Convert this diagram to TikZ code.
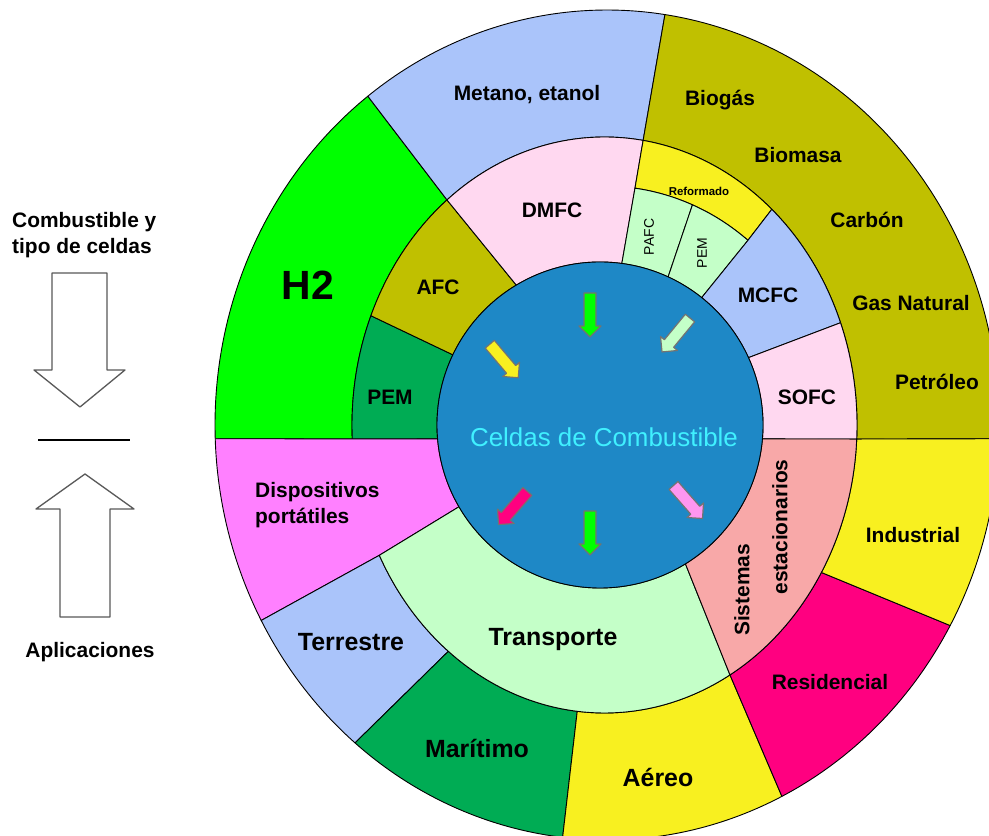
\documentclass[tikz,border=0pt]{standalone}
\usepackage{fontspec}
\setmainfont{Liberation Sans}
\usetikzlibrary{calc}

\definecolor{hgreen}{RGB}{0,255,0}
\definecolor{skyblue}{RGB}{170,196,250}
\definecolor{olive}{RGB}{192,192,0}
\definecolor{deepgreen}{RGB}{0,172,84}
\definecolor{rosecell}{RGB}{255,216,240}
\definecolor{lemon}{RGB}{248,240,32}
\definecolor{mint}{RGB}{196,255,200}
\definecolor{corecol}{RGB}{30,136,198}
\definecolor{orchid}{RGB}{255,128,255}
\definecolor{salmon}{RGB}{248,168,168}
\definecolor{hotpink}{RGB}{255,0,128}
\definecolor{lightorchid}{RGB}{255,150,240}
\definecolor{coretext}{RGB}{64,240,255}

\begin{document}
\begin{tikzpicture}[x=1bp,y=1bp,line join=round,
  ringpart/.style={draw=black,line width=0.9bp},
  lbl/.style={font=\fontsize{21}{26}\selectfont\bfseries,inner sep=0pt},
  biglbl/.style={font=\fontsize{25}{29}\selectfont\bfseries,inner sep=0pt},
  smalllbl/.style={font=\fontsize{14}{16}\selectfont,inner sep=0pt},
  bigarrow/.style={draw=black!65,line width=1.3bp,fill=white},
  tinyarrow/.style={draw=black!55,line width=1.2bp}]
%%
\useasboundingbox (0,0) rectangle (989,836);
\fill[white] (0,0) rectangle (989,836);
\clip (0,0) rectangle (989,836);
%% centres of the rings
\coordinate (O) at (607,411);
\coordinate (M) at (604.5,411);
\coordinate (B) at (600,411);
%% outer ellipse
\coordinate (oL) at ($(O)+(181.9:392 and 415)$);
\coordinate (oHM) at ($(O)+(127.6:392 and 415)$);
\coordinate (oMO) at ($(O)+(81.5:392 and 415)$);
\coordinate (oDT) at ($(O)+(208.1:392 and 415)$);
\coordinate (oTM) at ($(O)+(230:392 and 415)$);
\coordinate (oMA) at ($(O)+(263.5:392 and 415)$);
\coordinate (oAR) at ($(O)+(296.5:392 and 415)$);
\coordinate (oRI) at ($(O)+(331.1:392 and 415)$);
%% middle ellipse
\coordinate (mL) at ($(M)+(182.8:252.5 and 288)$);
\coordinate (mHM) at ($(M)+(128.6:252.5 and 288)$);
\coordinate (mMO) at ($(M)+(81.2:252.5 and 288)$);
\coordinate (mPA) at ($(M)+(157.7:252.5 and 288)$);
\coordinate (mRM) at ($(M)+(48.5:252.5 and 288)$);
\coordinate (mMS) at ($(M)+(20.8:252.5 and 288)$);
\coordinate (mR) at ($(M)+(-2.8:252.5 and 288)$);
\coordinate (mDT) at ($(M)+(206.9:252.5 and 288)$);
\coordinate (mTM) at ($(M)+(231.8:252.5 and 288)$);
\coordinate (mMA) at ($(M)+(263.8:252.5 and 288)$);
\coordinate (mTS) at ($(M)+(299.8:252.5 and 288)$);
\coordinate (mRI) at ($(M)+(329.2:252.5 and 288)$);
%% reformado band
\coordinate (fL) at ($(M)+(82.25:226 and 239)$);
\coordinate (fPP) at ($(M)+(67.1:226 and 239)$);
\coordinate (fR) at ($(M)+(50.6:226 and 239)$);
%% core circle
\coordinate (bL) at ($(B)+(184.9:163)$);
\coordinate (bPA) at ($(B)+(154.5:163)$);
\coordinate (bAD) at ($(B)+(120.9:163)$);
\coordinate (bDP) at ($(B)+(82.3:163)$);
\coordinate (bPP) at ($(B)+(65.3:163)$);
\coordinate (bPM) at ($(B)+(51.4:163)$);
\coordinate (bMS) at ($(B)+(24.4:163)$);
\coordinate (bR) at ($(B)+(-4.9:163)$);
\coordinate (bDT) at ($(B)+(210.1:163)$);
\coordinate (bTS) at ($(B)+(301.6:163)$);
%% fuels
\draw[ringpart,fill=hgreen] (mL) -- (oL) arc[start angle=181.9,end angle=127.6,x radius=392,y radius=415] -- (mHM) arc[start angle=128.6,end angle=182.8,x radius=252.5,y radius=288] -- cycle;
\draw[ringpart,fill=skyblue] (mHM) -- (oHM) arc[start angle=127.6,end angle=81.5,x radius=392,y radius=415] -- (mMO) arc[start angle=81.2,end angle=128.6,x radius=252.5,y radius=288] -- cycle;
\draw[ringpart,fill=olive] (mMO) -- (oMO) arc[start angle=81.5,end angle=-1.9,x radius=392,y radius=415] -- (mR) arc[start angle=-2.8,end angle=81.2,x radius=252.5,y radius=288] -- cycle;
%% cell types
\draw[ringpart,fill=deepgreen] (bL) -- (mL) arc[start angle=182.8,end angle=157.7,x radius=252.5,y radius=288] -- (bPA) arc[start angle=154.5,end angle=184.9,radius=163] -- cycle;
\draw[ringpart,fill=olive] (bPA) -- (mPA) arc[start angle=157.7,end angle=128.6,x radius=252.5,y radius=288] -- (bAD) arc[start angle=120.9,end angle=154.5,radius=163] -- cycle;
\draw[ringpart,fill=rosecell] (bAD) -- (mHM) arc[start angle=128.6,end angle=81.2,x radius=252.5,y radius=288] -- (fL) -- (bDP) arc[start angle=82.3,end angle=120.9,radius=163] -- cycle;
\draw[ringpart,fill=lemon] (fL) -- (mMO) arc[start angle=81.2,end angle=48.5,x radius=252.5,y radius=288] -- (fR) arc[start angle=50.6,end angle=82.25,x radius=226,y radius=239] -- cycle;
\draw[ringpart,fill=mint] (bDP) -- (fL) arc[start angle=82.25,end angle=67.1,x radius=226,y radius=239] -- (bPP) arc[start angle=65.3,end angle=82.3,radius=163] -- cycle;
\draw[ringpart,fill=mint] (bPP) -- (fPP) arc[start angle=67.1,end angle=50.6,x radius=226,y radius=239] -- (bPM) arc[start angle=51.4,end angle=65.3,radius=163] -- cycle;
\draw[ringpart,fill=skyblue] (bPM) -- (fR) -- (mRM) arc[start angle=48.5,end angle=20.8,x radius=252.5,y radius=288] -- (bMS) arc[start angle=24.4,end angle=51.4,radius=163] -- cycle;
\draw[ringpart,fill=rosecell] (bMS) -- (mMS) arc[start angle=20.8,end angle=-2.8,x radius=252.5,y radius=288] -- (bR) arc[start angle=-4.9,end angle=24.4,radius=163] -- cycle;
%% applications
\draw[ringpart,fill=orchid] (bL) -- (oL) arc[start angle=181.9,end angle=208.1,x radius=392,y radius=415] -- (mDT) -- (bDT) arc[start angle=210.1,end angle=184.9,radius=163] -- cycle;
\draw[ringpart,fill=skyblue] (mDT) -- (oDT) arc[start angle=208.1,end angle=230,x radius=392,y radius=415] -- (mTM) arc[start angle=231.8,end angle=206.9,x radius=252.5,y radius=288] -- cycle;
\draw[ringpart,fill=deepgreen] (mTM) -- (oTM) arc[start angle=230,end angle=263.5,x radius=392,y radius=415] -- (mMA) arc[start angle=263.8,end angle=231.8,x radius=252.5,y radius=288] -- cycle;
\draw[ringpart,fill=lemon] (mMA) -- (oMA) arc[start angle=263.5,end angle=296.5,x radius=392,y radius=415] -- (mTS) arc[start angle=299.8,end angle=263.8,x radius=252.5,y radius=288] -- cycle;
\draw[ringpart,fill=hotpink] (mTS) -- (oAR) arc[start angle=296.5,end angle=331.1,x radius=392,y radius=415] -- (mRI) arc[start angle=329.2,end angle=299.8,x radius=252.5,y radius=288] -- cycle;
\draw[ringpart,fill=lemon] (mRI) -- (oRI) arc[start angle=331.1,end angle=358.1,x radius=392,y radius=415] -- (mR) arc[start angle=357.2,end angle=329.2,x radius=252.5,y radius=288] -- cycle;
\draw[ringpart,fill=mint] (bDT) -- (mDT) arc[start angle=206.9,end angle=299.8,x radius=252.5,y radius=288] -- (bTS) arc[start angle=301.6,end angle=210.1,radius=163] -- cycle;
\draw[ringpart,fill=salmon] (bTS) -- (mTS) arc[start angle=299.8,end angle=357.2,x radius=252.5,y radius=288] -- (bR) arc[start angle=355.1,end angle=301.6,radius=163] -- cycle;
%% core
\draw[ringpart,fill=corecol] (B) circle[radius=163];
\draw[tinyarrow,fill=lemon,shift={(504,475)},rotate=-49.7] (-22,-6) -- (11,-6) -- (11,-11) -- (22,0) -- (11,11) -- (11,6) -- (-22,6) -- cycle;
\draw[tinyarrow,fill=hgreen,shift={(590,521)},rotate=-90] (-22,-6) -- (11,-6) -- (11,-11) -- (22,0) -- (11,11) -- (11,6) -- (-22,6) -- cycle;
\draw[tinyarrow,fill=mint,shift={(676,501)},rotate=-129.5] (-22,-6) -- (11,-6) -- (11,-11) -- (22,0) -- (11,11) -- (11,6) -- (-22,6) -- cycle;
\draw[tinyarrow,fill=hotpink,shift={(513,328)},rotate=-131] (-22,-6) -- (11,-6) -- (11,-11) -- (22,0) -- (11,11) -- (11,6) -- (-22,6) -- cycle;
\draw[tinyarrow,fill=hgreen,shift={(590,303)},rotate=-90] (-22,-6) -- (11,-6) -- (11,-11) -- (22,0) -- (11,11) -- (11,6) -- (-22,6) -- cycle;
\draw[tinyarrow,fill=lightorchid,shift={(688,334)},rotate=-48.7] (-22,-6) -- (11,-6) -- (11,-11) -- (22,0) -- (11,11) -- (11,6) -- (-22,6) -- cycle;
%% labels
\node (fuel_h2) at (308,551) [inner sep=0pt,font=\fontsize{41}{45}\selectfont\bfseries] {H2};
\node (fuel_metano) at (527,741) [lbl] {Metano, etanol};
\node (fuel_biogas) at (720,736) [lbl] {Biogás};
\node (fuel_biomasa) at (798,681) [lbl] {Biomasa};
\node (fuel_carbon) at (867,616) [lbl] {Carbón};
\node (fuel_gas) at (911,533) [lbl] {Gas Natural};
\node (fuel_petroleo) at (937,454) [lbl] {Petróleo};
\node (cell_afc) at (438,549) [lbl] {AFC};
\node (cell_pem) at (390,439) [lbl] {PEM};
\node (cell_dmfc) at (552,626) [lbl] {DMFC};
\node (cell_ref) at (699,645) [inner sep=0pt,font=\fontsize{11.5}{13}\selectfont\bfseries] {Reformado};
\node (cell_pafc) at (649,599) [smalllbl,rotate=90] {PAFC};
\node (cell_pem2) at (702,583) [smalllbl,rotate=90] {PEM};
\node (cell_mcfc) at (768,541) [lbl] {MCFC};
\node (cell_sofc) at (807,439) [lbl] {SOFC};
\node (core) at (604,399) [inner sep=0pt,text=coretext,font=\fontsize{26}{29}\selectfont] {Celdas de Combustible};
\node (app_disp) at (255,331) [lbl,anchor=west,align=left] {Dispositivos\\portátiles};
\node (app_terrestre) at (351,194) [biglbl] {Terrestre};
\node (app_maritimo) at (477,88) [biglbl] {Marítimo};
\node (app_transporte) at (553,196) [biglbl] {Transporte};
\node (app_sist1) at (742,246) [lbl,rotate=90] {Sistemas};
\node (app_sist2) at (780,309) [lbl,rotate=90] {estacionarios};
\node (app_industrial) at (913,301) [lbl] {Industrial};
\node (app_residencial) at (830,154) [lbl] {Residencial};
\node (app_aereo) at (658,59) [biglbl] {Aéreo};
%% legend on the left
\node (side_fuel) at (12,601) [lbl,anchor=west,align=left] {Combustible y\\tipo de celdas};
\draw[bigarrow] (52,563) -- (107,563) -- (107,466) -- (125,466) -- (80,429) -- (34,466) -- (52,466) -- cycle;
\draw[black,line width=2.2bp] (38,396) -- (130,396);
\draw[bigarrow] (60,219) -- (110,219) -- (110,327) -- (134,327) -- (85,362) -- (36,327) -- (60,327) -- cycle;
\node (side_app) at (90,184) [lbl] {Aplicaciones};
%
\end{tikzpicture}
\end{document}
